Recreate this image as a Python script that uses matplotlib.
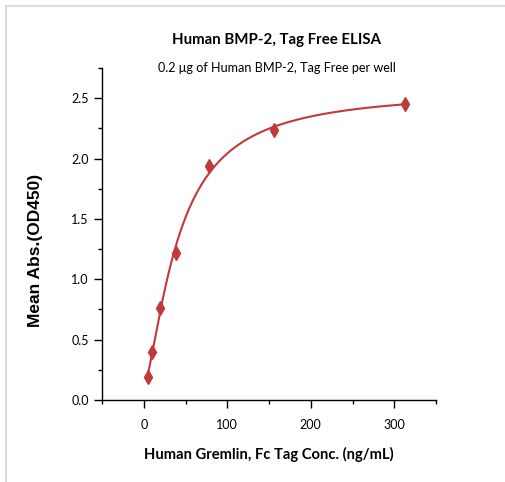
import numpy as np
import matplotlib
matplotlib.use("Agg")
import matplotlib.pyplot as plt
from matplotlib.lines import Line2D
from matplotlib.ticker import MultipleLocator, FormatStrFormatter

# data
conc_ng_ml = [4.88, 9.77, 19.53, 39.06, 78.13, 156.25, 312.5]
mean_abs = [0.19, 0.40, 0.76, 1.22, 1.94, 2.24, 2.45]

title = "Human BMP-2, Tag Free ELISA"
subtitle = "0.2 \u03bcg of Human BMP-2, Tag Free per well"
x_label = "Human Gremlin, Fc Tag Conc. (ng/mL)"
y_label = "Mean Abs.(OD450)"

red = "#c0393b"


def fit_4pl(x, y):
    """crude 4PL fit: grid over c and b, linear least squares for a and d"""
    x = np.asarray(x, dtype=float)
    y = np.asarray(y, dtype=float)
    best = None
    for c in np.logspace(1, 3, 300):
        for b in np.linspace(0.5, 3.0, 120):
            f = 1.0 / (1.0 + (x / c) ** b)
            A = np.column_stack([f, 1.0 - f])
            coef, *_ = np.linalg.lstsq(A, y, rcond=None)
            err = np.sum((A @ coef - y) ** 2)
            if best is None or err < best[0]:
                best = (err, coef[0], coef[1], c, b)
    _, a, d, c, b = best
    return lambda xx: d + (a - d) / (1.0 + (xx / c) ** b)


curve = fit_4pl(conc_ng_ml, mean_abs)
x_fit = np.linspace(min(conc_ng_ml), max(conc_ng_ml), 400)

fig = plt.figure(figsize=(5.06, 4.82), dpi=100)
ax = fig.add_axes([0.2016, 0.1701, 0.6601, 0.6888])

ax.plot(x_fit, curve(x_fit), color=red, linewidth=1.5)
ax.plot(conc_ng_ml, mean_abs, linestyle="none", marker="d",
        markersize=7, color=red)

ax.set_xlim(-50, 350)
ax.set_ylim(0, 2.75)
ax.xaxis.set_major_locator(MultipleLocator(100))
ax.xaxis.set_minor_locator(MultipleLocator(50))
ax.yaxis.set_major_locator(MultipleLocator(0.5))
ax.yaxis.set_minor_locator(MultipleLocator(0.25))
ax.yaxis.set_major_formatter(FormatStrFormatter("%.1f"))

for side in ["top", "right"]:
    ax.spines[side].set_visible(False)
for side in ["left", "bottom"]:
    ax.spines[side].set_linewidth(1.0)

ax.tick_params(which="major", length=6, width=1.0, direction="out",
               labelsize=9)
ax.tick_params(which="minor", length=3, width=1.0, direction="out")
ax.tick_params(axis="x", which="major", pad=7.5)
ax.tick_params(axis="y", which="major", pad=3.5)
for lbl in ax.get_xticklabels() + ax.get_yticklabels():
    lbl.set_family("Lato")

ax.set_xlabel(x_label, fontsize=10.6, fontweight="bold",
              family="Lato", labelpad=12)
ax.set_ylabel(y_label, fontsize=12.5, fontweight="bold",
              family="Liberation Sans")
ax.yaxis.set_label_coords(-0.178, 0.452)

fig.text(0.547, 0.917, title, ha="center", va="center",
         fontsize=10.8, fontweight="bold", family="Lato")
fig.text(0.547, 0.859, subtitle, ha="center", va="center",
         fontsize=9.1, family="Lato")

# light frame of the original panel
fig.add_artist(Line2D([6 / 506, 6 / 506], [0, 1 - 6 / 482],
                      color="#dcdcdc", linewidth=1.5))
fig.add_artist(Line2D([6 / 506, 1], [1 - 6 / 482, 1 - 6 / 482],
                      color="#dcdcdc", linewidth=1.5))

fig.savefig("out.png", dpi=100)
